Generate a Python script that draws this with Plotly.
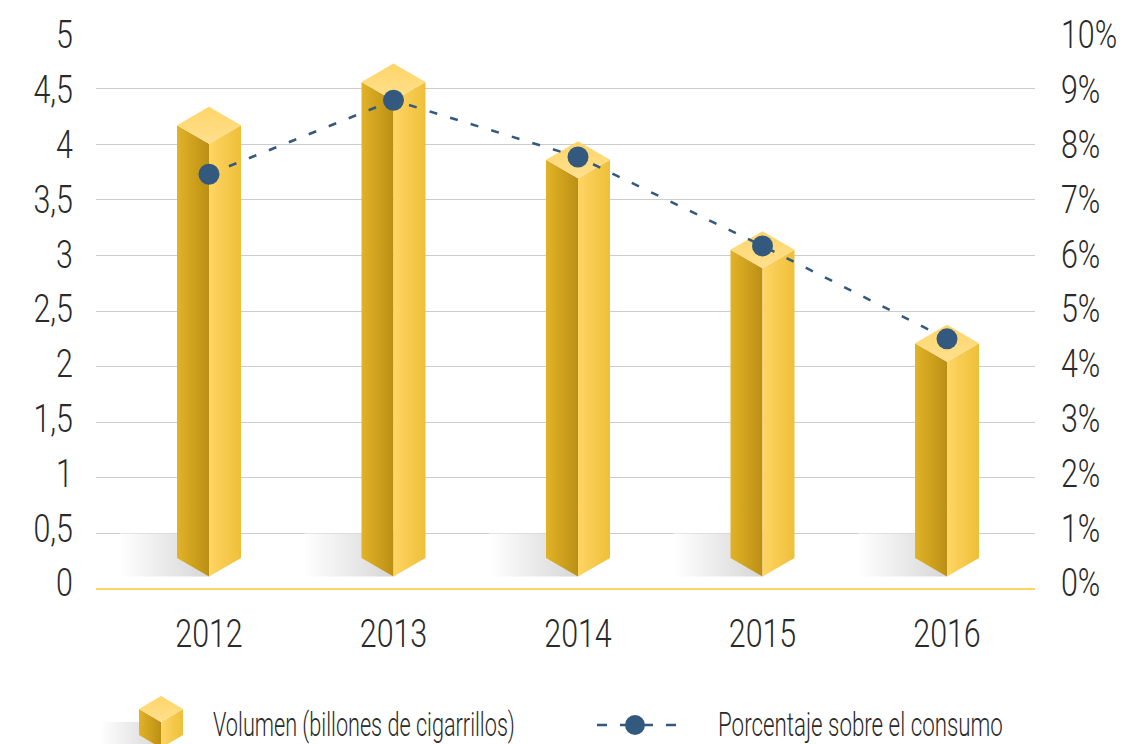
import plotly.graph_objects as go

years = ["2012", "2013", "2014", "2015", "2016"]
volumen = [4.17, 4.56, 3.86, 3.05, 2.21]
porcentaje = [7.46, 8.79, 7.77, 6.17, 4.50]
left_ticks = [0, 0.5, 1, 1.5, 2, 2.5, 3, 3.5, 4, 4.5, 5]
left_labels = ["0", "0,5", "1", "1,5", "2", "2,5", "3", "3,5", "4", "4,5", "5"]
right_ticks = [0, 1, 2, 3, 4, 5, 6, 7, 8, 9, 10]
right_labels = ["0%", "1%", "2%", "3%", "4%", "5%", "6%", "7%", "8%", "9%", "10%"]
legend_labels = ["Volumen (billones de cigarrillos)", "Porcentaje sobre el consumo"]

FONT = "Roboto, sans-serif"
TXT = "#2a2a2a"
FS = 38
W, H = 1122, 744
L, R, T, B = 96, 1035, 33, 589
LABEL_T, LABEL_B = 35, 583   # the tick labels span slightly less than the grid
PX_X = 184.5          # px per category
PX_Y = (B - T) / 5    # px per y unit
HALF = 32 / PX_X
DEPTH = 18.5 / PX_Y
BASE_SIDE = 31 / PX_Y   # side corner of base
SHADOW_L = 89 / PX_X
SHADOW_TOP = 0.5
BLUE = "#34597f"

fig = go.Figure()


def poly(xs, ys, c0, c1, kind, xa="x", ya="y"):
    fig.add_trace(go.Scatter(
        x=xs, y=ys, mode="lines", fill="toself", line=dict(width=0),
        fillgradient=dict(type=kind, colorscale=[[0, c0], [1, c1]]),
        hoverinfo="skip", showlegend=False, xaxis=xa, yaxis=ya))


def bar3d(cx, top, base_side, half, depth, shadow_l, shadow_top, xa="x", ya="y"):
    base_front = base_side - depth
    # floor shadow
    poly([cx - shadow_l, cx, cx, cx - shadow_l],
         [shadow_top, shadow_top, base_front, base_front],
         "#ffffff", "#d6d6d6", "horizontal", xa, ya)
    # left face
    poly([cx - half, cx, cx, cx - half],
         [top, top - depth, base_front, base_side], "#e2b327", "#bb8f15", "horizontal", xa, ya)
    # right face
    poly([cx, cx + half, cx + half, cx],
         [top - depth, top, base_side, base_front], "#ffd564", "#eebf39", "horizontal", xa, ya)
    # top face
    poly([cx - half, cx, cx + half, cx],
         [top, top + depth, top, top - depth], "#ffe08f", "#ffd568", "vertical", xa, ya)


for i, v in enumerate(volumen):
    bar3d(i, v, BASE_SIDE, HALF, DEPTH, SHADOW_L, SHADOW_TOP)

fig.add_trace(go.Scatter(
    x=list(range(len(years))), y=porcentaje, yaxis="y2", mode="lines+markers",
    line=dict(color=BLUE, width=2.5, dash="8px,13.5px"),
    marker=dict(color=BLUE, size=21), hoverinfo="skip", showlegend=False))

# transparent traces that carry the two axes holding the tick labels
for ya in ("y4", "y5"):
    fig.add_trace(go.Scatter(x=[0], y=[0], yaxis=ya, mode="markers", marker=dict(opacity=0),
                             hoverinfo="skip", showlegend=False))

# legend drawn on a pixel-scaled overlay axis pair (y3 = pixels above page bottom)
LEG_H = 54
bar3d(161, 35, 9, 22, 13, 61, 22, "x3", "y3")
fig.add_trace(go.Scatter(
    x=[597, 635, 676], y=[19, 19, 19], mode="lines", xaxis="x3", yaxis="y3",
    line=dict(color=BLUE, width=2.5, dash="10px,13px"), hoverinfo="skip", showlegend=False))
fig.add_trace(go.Scatter(
    x=[635], y=[19], mode="markers", xaxis="x3", yaxis="y3",
    marker=dict(color=BLUE, size=20), hoverinfo="skip", showlegend=False))
fig.add_trace(go.Scatter(
    x=[213, 718], y=[16, 16], mode="text", text=legend_labels, textposition="middle right",
    textfont=dict(family=FONT, size=33, color=TXT, weight=300), xaxis="x3", yaxis="y3",
    hoverinfo="skip", showlegend=False, cliponaxis=False))

x0 = (L - 209) / PX_X
x1 = (R - 209) / PX_X
tick_font = dict(family=FONT, size=FS, color=TXT, weight=300)
plot_h = H - T
label_domain = [(H - LABEL_B) / plot_h, (H - LABEL_T) / plot_h]
fig.update_layout(
    width=W, height=H, autosize=False, paper_bgcolor="white", plot_bgcolor="rgba(0,0,0,0)",
    margin=dict(l=L, r=W - R, t=T, b=0, pad=0),
    xaxis=dict(range=[x0, x1], tickvals=list(range(len(years))), ticktext=years,
               showgrid=False, zeroline=False, showline=False,
               anchor="y", ticks="", ticklabelstandoff=19, automargin=False, tickfont=tick_font),
    yaxis=dict(range=[0, 5], tickvals=left_ticks, showticklabels=False,
               domain=[(H - B) / plot_h, 1], gridcolor="#cccccc", gridwidth=1,
               zeroline=True, zerolinecolor="#ffd566", zerolinewidth=2,
               showline=False, ticks="", automargin=False),
    yaxis2=dict(range=[0, 10], overlaying="y", side="right", showgrid=False, zeroline=False,
                showline=False, ticks="", showticklabels=False, automargin=False),
    yaxis4=dict(range=[0, 5], tickvals=left_ticks, ticktext=left_labels, domain=label_domain,
                anchor="x", side="left", showgrid=False, zeroline=False, showline=False,
                ticks="", ticklabelstandoff=22, automargin=False, tickfont=tick_font),
    yaxis5=dict(range=[0, 10], tickvals=right_ticks, ticktext=right_labels, domain=label_domain,
                anchor="x", side="right", showgrid=False, zeroline=False, showline=False,
                ticks="", ticklabelstandoff=25, automargin=False, tickfont=tick_font),
    xaxis3=dict(range=[L, R], domain=[0, 1], anchor="y3", visible=False, fixedrange=True,
                automargin=False),
    yaxis3=dict(range=[0, LEG_H], domain=[0, LEG_H / plot_h], anchor="x3",
                visible=False, fixedrange=True, automargin=False),
    showlegend=False,
)

# condense the real text labels horizontally around their anchor (the reference font is narrow)
POST = """
document.body.style.margin = '0';
var squeeze = function (t, ratio) {
  var x = parseFloat(t.getAttribute('x')) || 0;
  var old = t.getAttribute('transform') || '';
  t.setAttribute('transform', old + ' translate(' + x + ',0) scale(' + ratio + ',1) translate(' + (-x) + ',0)');
};
document.querySelectorAll('.xtick text, .y4tick text, .y5tick text').forEach(function (t) { squeeze(t, 0.80); });
var legendWidths = [302, 285];
document.querySelectorAll('.textpoint text').forEach(function (t, i) {
  squeeze(t, legendWidths[i] / t.getComputedTextLength());
});
"""
fig.write_html("out.html", include_plotlyjs=True, config=dict(displayModeBar=False),
               post_script=POST)
